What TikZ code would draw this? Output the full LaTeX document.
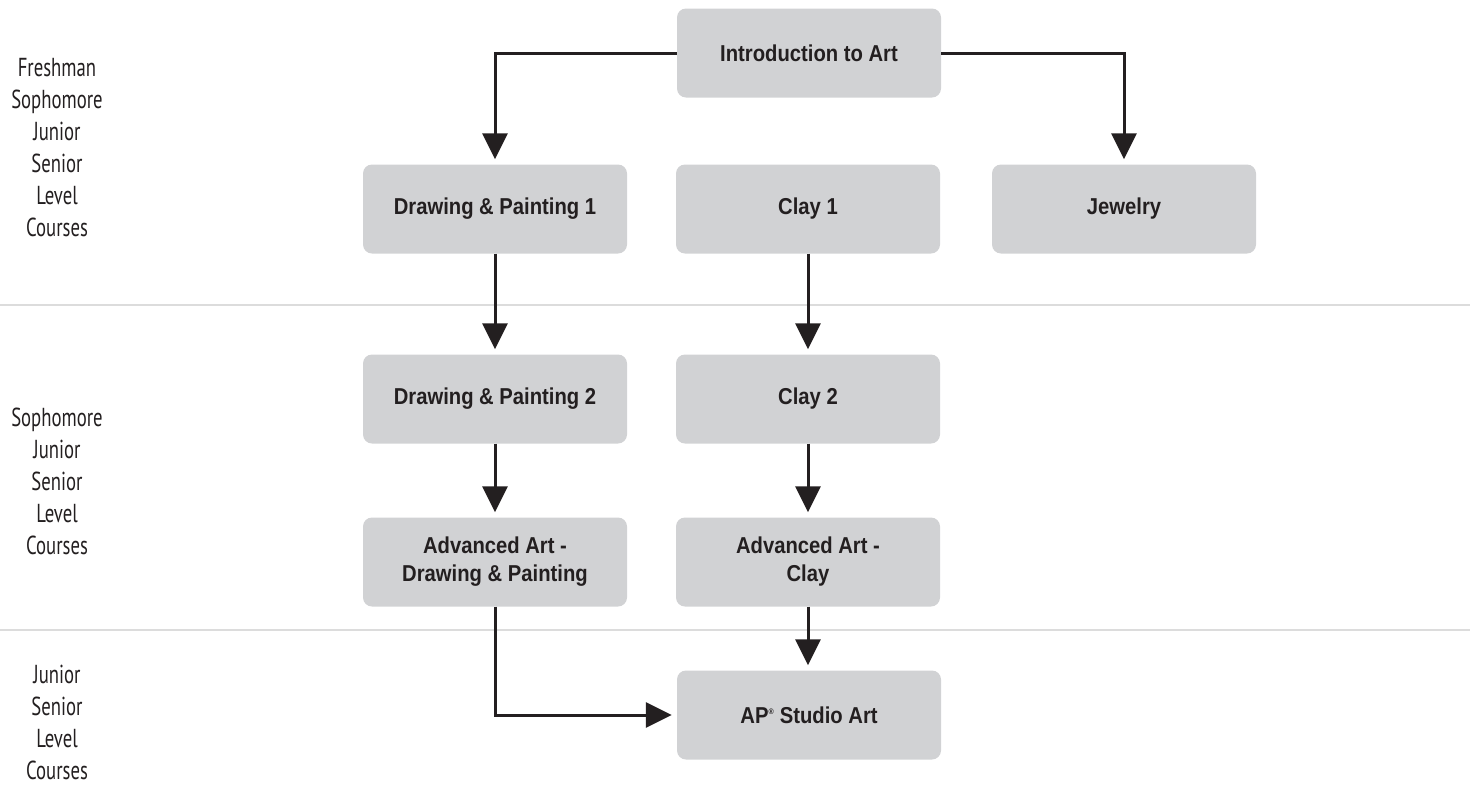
\documentclass[tikz,border=0pt]{standalone}
\usepackage{fontspec}
\setmainfont{Liberation Sans}
\newfontfamily\boxfont[FakeStretch=0.88]{Liberation Sans}
\newfontfamily\handfont[FakeStretch=0.72]{PT Sans}
\usetikzlibrary{arrows.meta}
\definecolor{boxgray}{HTML}{D1D2D4}
\definecolor{ink}{HTML}{231F20}
\definecolor{rule}{HTML}{DCDCDC}
\begin{document}
\begin{tikzpicture}[x=1pt,y=-1pt,
  course/.style={rectangle, rounded corners=9pt, fill=boxgray, minimum width=264pt, minimum height=89pt, align=center, text=ink, font=\boxfont\bfseries\fontsize{23}{28}\selectfont, inner sep=0pt},
  yearlabel/.style={align=center, text=ink, font=\handfont\fontsize{26}{32}\selectfont},
  link/.style={draw=ink, line width=3pt, -{Triangle[length=26pt,width=25pt]}, shorten >=5pt},
  divider/.style={draw=rule, line width=2pt}]
\useasboundingbox (0,0) rectangle (1470,785);
% dividers
\draw[divider] (0,305) -- (1470,305);
\draw[divider] (0,630) -- (1470,630);
% courses
\node[course] (intro) at (809,53) {Introduction to Art};
\node[course] (dp1) at (495,209) {Drawing \& Painting 1};
\node[course] (clay1) at (808,209) {Clay 1};
\node[course] (jew) at (1124,209) {Jewelry};
\node[course] (dp2) at (495,399) {Drawing \& Painting 2};
\node[course] (clay2) at (808,399) {Clay 2};
\node[course] (adp) at (495,562) {Advanced Art -\\Drawing \& Painting};
\node[course] (aclay) at (808,562) {Advanced Art -\\Clay};
\node[course] (ap) at (809,715) {AP\textsuperscript{\footnotesize\textregistered} Studio Art};
% labels
\node[yearlabel] (l1) at (57,148) {Freshman\\Sophomore\\Junior\\Senior\\Level\\Courses};
\node[yearlabel] (l2) at (57,481) {Sophomore\\Junior\\Senior\\Level\\Courses};
\node[yearlabel] (l3) at (57,722) {Junior\\Senior\\Level\\Courses};
% connectors
\draw[link] (intro.west) -| (dp1.north);
\draw[link] (intro.east) -| (jew.north);
\draw[link] (dp1.south) -- (dp2.north);
\draw[link] (clay1.south) -- (clay2.north);
\draw[link] (dp2.south) -- (adp.north);
\draw[link] (clay2.south) -- (aclay.north);
\draw[link] (aclay.south) -- (aclay.south |- ap.north);
\draw[link] (adp.south) |- (ap.west);
\end{tikzpicture}
\end{document}
